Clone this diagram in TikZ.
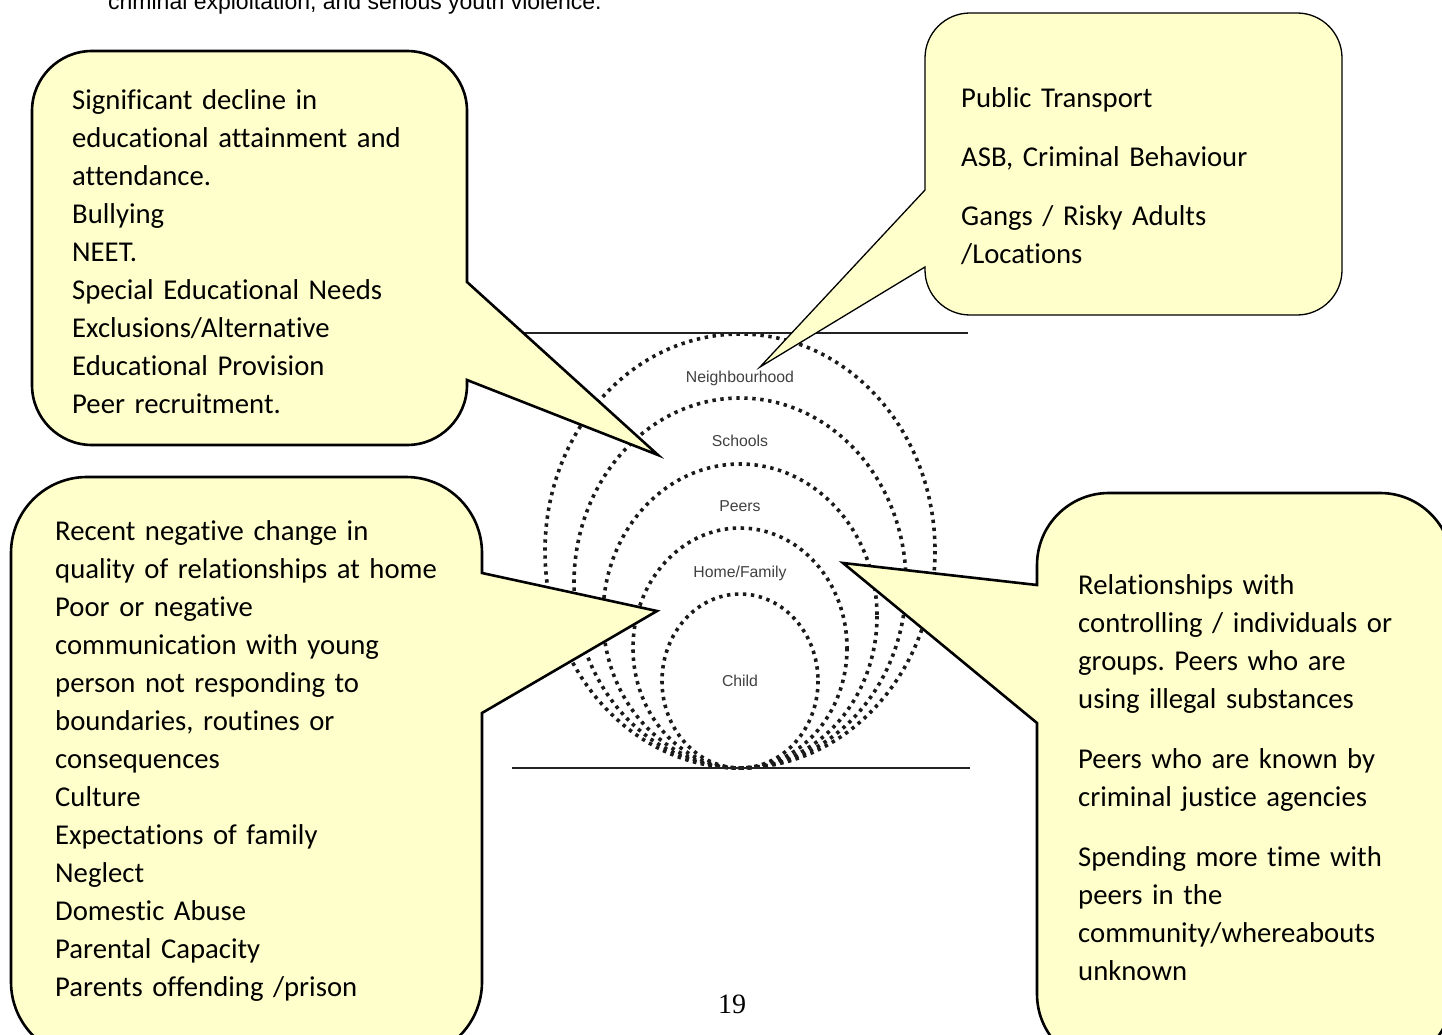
\documentclass[tikz,border=0pt]{standalone}
\usepackage{fontspec}
\setmainfont{Liberation Serif}
\newfontfamily\calibri[Ligatures={NoCommon}]{Carlito}
\newfontfamily\arialf{Liberation Sans}
\definecolor{callfill}{HTML}{FFFFCC}
\definecolor{dotgray}{HTML}{1A1A1A}
\definecolor{labgray}{HTML}{404040}
\definecolor{linegray}{HTML}{222222}
\tikzset{
  callout/.style={draw=black, fill=callfill, line width=2.6pt, line join=miter},
  thincallout/.style={callout, line width=1.3pt},
  ring/.style={draw=dotgray, line width=3.6pt, dash pattern=on 3.4pt off 4.6pt},
  ringlabel/.style={font=\arialf\fontsize{15.8pt}{18pt}\selectfont, text=labgray, anchor=base, inner sep=0pt},
  calltext/.style={font=\calibri\fontsize{28.7pt}{38pt}\selectfont\frenchspacing, anchor=base west, inner sep=0pt, align=left},
  frameline/.style={draw=linegray, line width=2pt}
}
\begin{document}
\begin{tikzpicture}[x=1pt,y=1pt,yscale=-1]
\useasboundingbox (0,0) rectangle (1442,1035);
% top text (cut by page edge)
\node[font=\arialf\fontsize{23pt}{27pt}\selectfont, text=black, anchor=base west, inner sep=0pt] (toptext) at (108,10) {criminal exploitation, and serious youth violence.};
% nested dotted circles
\draw[ring] (740,551) ellipse [x radius=195pt, y radius=217pt];
\draw[ring] (740,583) ellipse [x radius=166pt, y radius=185pt];
\draw[ring] (740,616) ellipse [x radius=137pt, y radius=152pt];
\draw[ring] (740,648) ellipse [x radius=107pt, y radius=120pt];
\draw[ring] (740,681) ellipse [x radius=78pt, y radius=87pt];
\draw[frameline] (470,333) -- (968,333);
\draw[frameline] (512,768) -- (970,768);
\node[ringlabel] (lneigh) at (740,382) {Neighbourhood};
\node[ringlabel] (lschool) at (740,446) {Schools};
\node[ringlabel] (lpeers) at (740,511) {Peers};
\node[ringlabel] (lhome) at (740,577) {Home/Family};
\node[ringlabel] (lchild) at (740,686) {Child};
% callout 1 (schools)
\draw[callout] (92,51) -- (407,51) arc[start angle=-90,end angle=0,radius=60pt]
  -- (467,282) -- (658,455) -- (467,380) -- (467,385)
  arc[start angle=0,end angle=90,radius=60pt] -- (92,445)
  arc[start angle=90,end angle=180,radius=60pt] -- (32,111)
  arc[start angle=180,end angle=270,radius=60pt] -- cycle;
% callout 2 (neighbourhood)
\draw[thincallout] (970,13) -- (1297,13) arc[start angle=-90,end angle=0,radius=45pt]
  -- (1342,270) arc[start angle=0,end angle=90,radius=45pt] -- (970,315)
  arc[start angle=90,end angle=180,radius=45pt] -- (925,267) -- (760,367) -- (925,190)
  -- (925,58) arc[start angle=180,end angle=270,radius=45pt] -- cycle;
% callout 3 (home)
\draw[callout] (87,477) -- (406,477) arc[start angle=-90,end angle=0,radius=76pt]
  -- (482,573) -- (657,611) -- (482,713) -- (482,982)
  arc[start angle=0,end angle=90,radius=76pt] -- (87,1058)
  arc[start angle=90,end angle=180,radius=76pt] -- (11,553)
  arc[start angle=180,end angle=270,radius=76pt] -- cycle;
% callout 4 (peers)
\draw[callout] (1109,493) -- (1380,493) arc[start angle=-90,end angle=0,radius=72pt]
  -- (1452,994) arc[start angle=0,end angle=90,radius=72pt] -- (1109,1066)
  arc[start angle=90,end angle=180,radius=72pt] -- (1037,723) -- (843,563) -- (1037,585)
  -- (1037,565) arc[start angle=180,end angle=270,radius=72pt] -- cycle;
% callout texts
\node[calltext, text width=400pt] (t1) at (72,110) {Significant decline in\\
educational attainment and\\
attendance.\\
Bullying\\
NEET.\\
Special Educational Needs\\
Exclusions/Alternative\\
Educational Provision\\
Peer recruitment.};
\node[calltext, text width=370pt] (t2) at (961,108) {Public Transport\\[21pt]
ASB, Criminal Behaviour\\[21pt]
Gangs / Risky Adults\\
/Locations};
\node[calltext, text width=410pt] (t3) at (55,540) {Recent negative change in\\
quality of relationships at home\\
Poor or negative\\
communication with young\\
person not responding to\\
boundaries, routines or\\
consequences\\
Culture\\
Expectations of family\\
Neglect\\
Domestic Abuse\\
Parental Capacity\\
Parents offending /prison};
\node[calltext, text width=350pt] (t4) at (1078,594) {Relationships with\\
controlling / individuals or\\
groups. Peers who are\\
using illegal substances\\[22pt]
Peers who are known by\\
criminal justice agencies\\[22pt]
Spending more time with\\
peers in the\\
community/whereabouts\\
unknown};
% page number
\node[font=\fontsize{28pt}{32pt}\selectfont, anchor=base, inner sep=0pt] (pageno) at (732,1013) {19};
\end{tikzpicture}
\end{document}
